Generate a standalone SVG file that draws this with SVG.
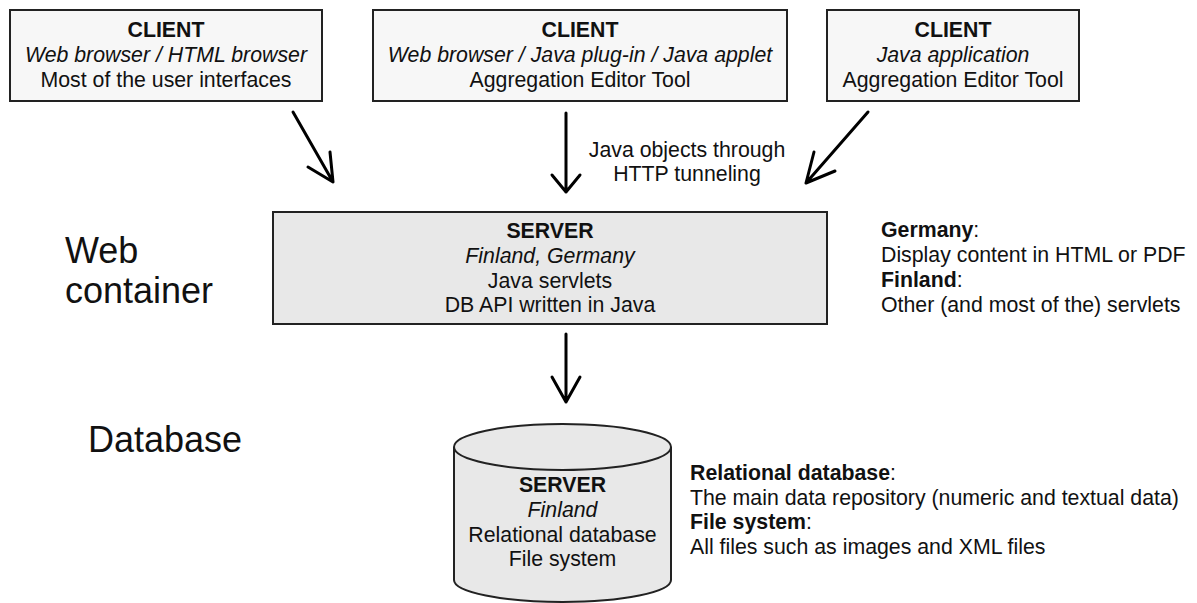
<svg xmlns="http://www.w3.org/2000/svg" width="1197" height="603" viewBox="0 0 1197 603">
  <style>
    text { font-family: "Liberation Sans", Arial, sans-serif; font-size: 21.3px; fill: #111; }
    .c { text-anchor: middle; }
    .b { font-weight: bold; }
    .i { font-style: italic; }
    .big { font-size: 36px; }
    .client { fill: #f7f7f7; stroke: #222; stroke-width: 2; }
    .server { fill: #e8e8e8; stroke: #222; stroke-width: 2; }
    .conn { fill: none; stroke: #000; stroke-width: 3; stroke-linecap: round; stroke-linejoin: round; }
  </style>

  <rect width="1197" height="603" fill="#fff"/>

  <!-- client tier -->
  <g id="client-html">
    <rect class="client" x="10" y="10" width="312" height="91"/>
    <text class="c b" x="166" y="37">CLIENT</text>
    <text class="c i" x="166" y="62">Web browser / HTML browser</text>
    <text class="c" x="166" y="87">Most of the user interfaces</text>
  </g>
  <g id="client-applet">
    <rect class="client" x="373" y="10" width="414" height="91"/>
    <text class="c b" x="580" y="37">CLIENT</text>
    <text class="c i" x="580" y="62">Web browser / Java plug-in / Java applet</text>
    <text class="c" x="580" y="87">Aggregation Editor Tool</text>
  </g>
  <g id="client-app">
    <rect class="client" x="827" y="10" width="252" height="91"/>
    <text class="c b" x="953" y="37">CLIENT</text>
    <text class="c i" x="953" y="62">Java application</text>
    <text class="c" x="953" y="87">Aggregation Editor Tool</text>
  </g>

  <!-- web container tier -->
  <g id="web-container-label">
    <text class="big" x="65" y="263">Web</text>
    <text class="big" x="65" y="303">container</text>
  </g>
  <g id="web-server">
    <rect class="server" x="273" y="212" width="554" height="112"/>
    <text class="c b" x="550" y="238">SERVER</text>
    <text class="c i" x="550" y="263">Finland, Germany</text>
    <text class="c" x="550" y="287.5">Java servlets</text>
    <text class="c" x="550" y="312">DB API written in Java</text>
  </g>
  <g id="web-server-notes">
    <text x="881" y="237"><tspan class="b">Germany</tspan>:</text>
    <text x="881" y="262">Display content in HTML or PDF</text>
    <text x="881" y="287"><tspan class="b">Finland</tspan>:</text>
    <text x="881" y="312">Other (and most of the) servlets</text>
  </g>

  <!-- database tier -->
  <g id="database-label">
    <text class="big" x="88" y="452">Database</text>
  </g>
  <g id="db-server">
    <path class="server" d="M454,447 L454,580 A108.5,22 0 0 0 671,580 L671,447 A108.5,23 0 0 0 454,447 Z"/>
    <path class="server" d="M454,447 A108.5,23 0 0 0 671,447" fill="none"/>
    <text class="c b" x="562.5" y="492">SERVER</text>
    <text class="c i" x="562.5" y="517">Finland</text>
    <text class="c" x="562.5" y="542">Relational database</text>
    <text class="c" x="562.5" y="566">File system</text>
  </g>
  <g id="db-notes">
    <text x="690" y="480"><tspan class="b">Relational database</tspan>:</text>
    <text x="690" y="505">The main data repository (numeric and textual data)</text>
    <text x="690" y="529"><tspan class="b">File system</tspan>:</text>
    <text x="690" y="554">All files such as images and XML files</text>
  </g>

  <!-- connectors -->
  <g id="connectors">
    <path class="conn" d="M293,112 L333,182 M308,167 L333,182 L330,152"/>
    <path class="conn" d="M566,113 L566,192 M552,175 L566,192 L580,175"/>
    <path class="conn" d="M868,112 L806,183 M814,152 L806,183 L835,171"/>
    <path class="conn" d="M566,334 L566,402 M552,377 L566,402 L580,377"/>
    <text class="c" x="687" y="157">Java objects through</text>
    <text class="c" x="687" y="181">HTTP tunneling</text>
  </g>
</svg>
